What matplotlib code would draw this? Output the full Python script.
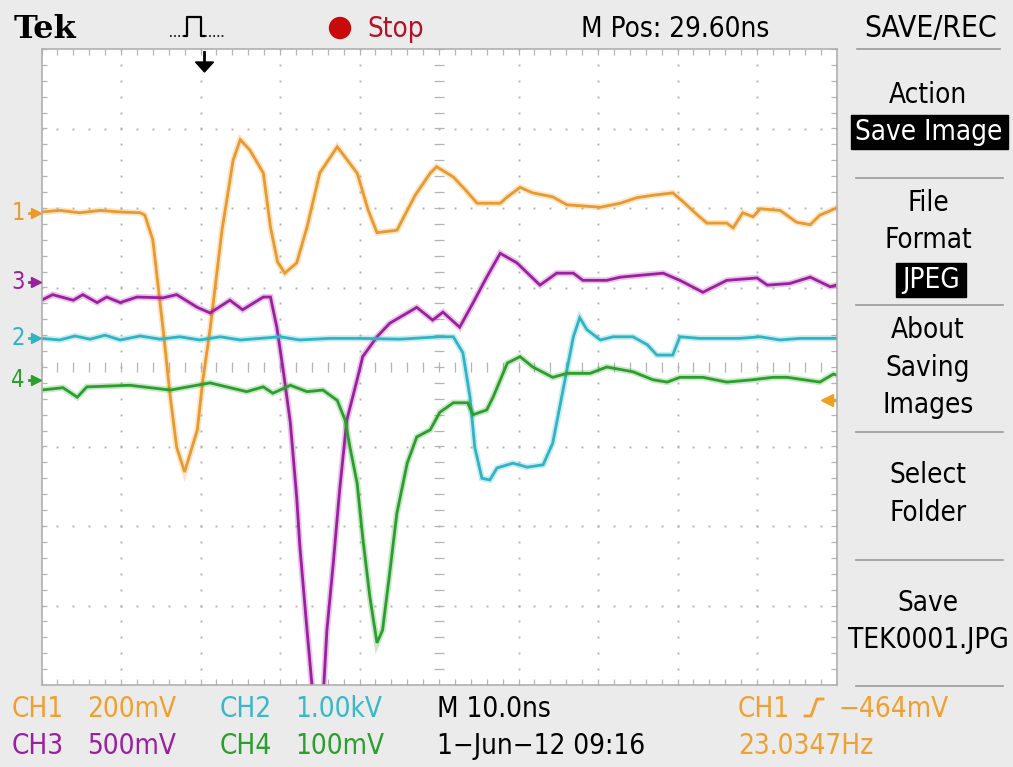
import matplotlib.pyplot as plt
import numpy as np
from matplotlib import transforms
from matplotlib.patches import Rectangle, Circle, Polygon

W, H = 1013, 767

# time in divisions (10 ns/div), amplitude in divisions
ch1_t = [0.0, 0.23, 0.48, 0.74, 0.99, 1.24, 1.30, 1.40, 1.53, 1.62, 1.70, 1.80, 1.96, 2.03,
         2.12, 2.21, 2.27, 2.35, 2.41, 2.50, 2.62, 2.79, 2.88, 2.97, 3.06, 3.21, 3.34, 3.50,
         3.72, 3.97, 4.11, 4.22, 4.47, 4.70, 4.89, 4.97, 5.18, 5.33, 5.48, 5.77, 5.86, 6.02,
         6.18, 6.43, 6.61, 7.03, 7.28, 7.49, 7.69, 7.94, 8.07, 8.22, 8.37, 8.62, 8.70, 8.82,
         8.95, 9.04, 9.29, 9.50, 9.67, 9.79, 10.0]
ch1_v = [1.95, 1.97, 1.94, 1.97, 1.95, 1.94, 1.91, 1.60, 0.47, -0.38, -1.01, -1.32, -0.79, -0.16,
         0.47, 1.22, 1.72, 2.22, 2.60, 2.86, 2.73, 2.44, 1.76, 1.32, 1.18, 1.31, 1.76, 2.44,
         2.77, 2.44, 1.97, 1.69, 1.72, 2.16, 2.44, 2.52, 2.39, 2.23, 2.06, 2.06, 2.14, 2.26,
         2.19, 2.14, 2.04, 2.01, 2.06, 2.13, 2.16, 2.19, 2.08, 1.94, 1.81, 1.81, 1.75, 1.94,
         1.89, 1.99, 1.97, 1.82, 1.79, 1.91, 2.00]

ch3_t = [0.0, 0.14, 0.40, 0.52, 0.70, 0.82, 0.99, 1.20, 1.53, 1.70, 1.96, 2.12, 2.37, 2.53,
         2.79, 2.88, 2.96, 3.04, 3.13, 3.21, 3.25, 3.34, 3.42, 3.54, 3.59, 3.67, 3.75, 3.84,
         3.97, 4.04, 4.22, 4.38, 4.55, 4.72, 4.92, 5.05, 5.26, 5.43, 5.60, 5.77, 5.98, 6.27,
         6.48, 6.69, 6.81, 7.11, 7.28, 7.82, 8.03, 8.32, 8.62, 9.00, 9.13, 9.41, 9.67, 9.92, 10.0]
ch3_v = [0.84, 0.91, 0.84, 0.91, 0.81, 0.88, 0.81, 0.88, 0.87, 0.91, 0.75, 0.68, 0.84, 0.72,
         0.88, 0.88, 0.50, -0.04, -0.70, -1.64, -2.26, -3.31, -4.2, -4.2, -3.31, -2.47, -1.55, -0.67,
         -0.16, 0.13, 0.38, 0.55, 0.65, 0.75, 0.59, 0.69, 0.50, 0.81, 1.13, 1.43, 1.31, 1.03,
         1.18, 1.18, 1.09, 1.09, 1.13, 1.18, 1.09, 0.94, 1.09, 1.12, 1.03, 1.05, 1.13, 1.01, 1.03]

ch2_t = [0.0, 0.23, 0.42, 0.61, 0.80, 0.99, 1.24, 1.49, 1.74, 1.99, 2.25, 2.50, 2.75, 3.00,
         3.25, 3.63, 4.01, 4.51, 5.01, 5.18, 5.30, 5.39, 5.45, 5.54, 5.64, 5.73, 5.93, 6.11,
         6.31, 6.43, 6.56, 6.69, 6.77, 6.86, 7.03, 7.19, 7.44, 7.62, 7.74, 7.94, 8.03, 8.28,
         8.78, 9.04, 9.29, 9.54, 10.0]
ch2_v = [0.36, 0.34, 0.39, 0.35, 0.40, 0.34, 0.39, 0.35, 0.38, 0.34, 0.38, 0.34, 0.36, 0.38,
         0.34, 0.36, 0.36, 0.35, 0.38, 0.38, 0.18, -0.38, -1.01, -1.40, -1.42, -1.27, -1.21, -1.26,
         -1.23, -0.96, -0.29, 0.38, 0.62, 0.47, 0.34, 0.38, 0.38, 0.28, 0.15, 0.15, 0.38, 0.36,
         0.36, 0.38, 0.34, 0.36, 0.36]

ch4_t = [0.0, 0.27, 0.45, 0.57, 1.11, 1.62, 2.12, 2.58, 2.79, 2.91, 3.13, 3.34, 3.54, 3.72,
         3.82, 3.88, 3.97, 4.04, 4.13, 4.22, 4.29, 4.38, 4.47, 4.60, 4.72, 4.89, 5.01, 5.18,
         5.36, 5.43, 5.60, 5.68, 5.86, 6.02, 6.18, 6.43, 6.61, 6.90, 7.11, 7.44, 7.69, 7.87,
         8.03, 8.32, 8.62, 8.95, 9.20, 9.38, 9.79, 9.96, 10.0]
ch4_v = [-0.29, -0.26, -0.38, -0.25, -0.23, -0.29, -0.20, -0.31, -0.25, -0.33, -0.23, -0.31, -0.29, -0.42,
         -0.67, -1.01, -1.46, -2.14, -2.89, -3.47, -3.31, -2.59, -1.84, -1.21, -0.88, -0.79, -0.57, -0.45,
         -0.45, -0.60, -0.54, -0.38, 0.05, 0.13, 0.0, -0.13, -0.08, -0.08, 0.0, -0.06, -0.16, -0.19,
         -0.13, -0.13, -0.19, -0.16, -0.13, -0.13, -0.19, -0.09, -0.10]

marker_levels = {'1': 1.94, '3': 1.07, '2': 0.36, '4': -0.16}
trig_level = -0.42
trig_pos = 2.05

ORANGE = '#e99a2c'
CYAN = '#2fb4c4'
MAGENTA = '#9c1f9f'
GREEN = '#2c9e2c'
BG = '#ebebeb'
GRID = '#b4b4b4'

TXT = dict(family=['DejaVu Sans'], fontstretch='condensed', fontsize=20)

fig = plt.figure(figsize=(W / 100, H / 100), dpi=100, facecolor=BG)

ax = fig.add_axes([41.5 / W, (H - 685) / H, 795 / W, 636 / H], zorder=2)
ax.set_xlim(0, 10)
ax.set_ylim(-4, 4)
ax.set_facecolor('white')
ax.set_xticks([])
ax.set_yticks([])
for s in ax.spines.values():
    s.set_color('#b0b0b0')
    s.set_linewidth(1.2)

# graticule
minor = np.arange(0, 10.01, 0.2)
minor_y = np.arange(-4, 4.01, 0.2)
for xm in range(1, 10):
    if xm == 5:
        continue
    ax.plot(np.full_like(minor_y, xm), minor_y, 's', ms=1.4, color=GRID, mew=0)
for ym in range(-3, 4):
    if ym == 0:
        continue
    ax.plot(minor, np.full_like(minor, ym), 's', ms=1.4, color=GRID, mew=0)
ax.vlines(minor, -0.06, 0.06, color=GRID, lw=0.9)
ax.hlines(minor_y, 4.94, 5.06, color=GRID, lw=0.9)
ax.vlines(minor, 3.93, 4.0, color=GRID, lw=0.9)
ax.vlines(minor, -4.0, -3.93, color=GRID, lw=0.9)
ax.hlines(minor_y, 0, 0.07, color=GRID, lw=0.9)
ax.hlines(minor_y, 9.93, 10, color=GRID, lw=0.9)

# traces
for t, v, c in [(ch1_t, ch1_v, ORANGE), (ch3_t, ch3_v, MAGENTA),
                (ch2_t, ch2_v, CYAN), (ch4_t, ch4_v, GREEN)]:
    ax.plot(t, v, color=c, lw=4.5, alpha=0.25, solid_joinstyle='miter')
    ax.plot(t, v, color=c, lw=2.0, solid_joinstyle='miter')

# trigger level arrow on right
ax.plot([9.88], [trig_level], marker='<', ms=9, color='#f0a020', clip_on=False)
ax.plot([9.9, 10.0], [trig_level, trig_level], color='#f0a020', lw=2.5)

# overlay in pixel coordinates
ov = fig.add_axes([0, 0, 1, 1], zorder=3)
ov.set_xlim(0, W)
ov.set_ylim(H, 0)
ov.axis('off')

# left channel markers
blend = transforms.blended_transform_factory(ov.transData, ax.transData)
mcol = {'1': ORANGE, '2': CYAN, '3': MAGENTA, '4': GREEN}
for k, lvl in marker_levels.items():
    ov.text(18, lvl, k, color=mcol[k], family=['DejaVu Sans'], fontstretch='condensed',
            fontsize=17, ha='center', va='center', transform=blend)
    ov.plot([29, 38], [lvl, lvl], color=mcol[k], lw=2, transform=blend)
    ov.plot([36], [lvl], marker='>', ms=7, color=mcol[k], transform=blend)

# trigger position arrow
tp = ax.transData.transform((trig_pos, 0))[0]
tpx = ov.transData.inverted().transform((tp, 0))[0]
ov.plot([tpx, tpx], [52, 66], color='black', lw=2)
ov.add_patch(Polygon([[tpx - 9, 62], [tpx + 9, 62], [tpx, 72]], color='black'))

# top bar
ov.text(14, 30, 'Tek', fontsize=23, family=['DejaVu Serif'],
        weight='bold', va='center', ha='left')
ov.plot([170, 184], [36, 36], color='black', lw=1.2, ls=(0, (1, 1.5)))
ov.plot([185, 187, 187, 201, 201, 204], [36, 36, 17, 17, 36, 36], color='black', lw=1.6)
ov.plot([205, 224], [36, 36], color='black', lw=1.2, ls=(0, (1, 1.5)))
ov.add_patch(Circle((340, 28), 10.5, color='#c80a0a'))
ov.text(367, 29, 'Stop', color='#b5122a', va='center', ha='left', **TXT)
ov.text(581, 29, 'M Pos: 29.60ns', va='center', ha='left', **TXT)
ov.text(931, 29, 'SAVE/REC', va='center', ha='center', family=['DejaVu Sans'],
        fontstretch='condensed', fontsize=21.5)
ov.plot([857, 1000], [49, 49], color='#9a9a9a', lw=1.2)

# right menu
menu = [('Action', 95), ('File', 203), ('Format', 240), ('About', 330),
        ('Saving', 368), ('Images', 405), ('Select', 475), ('Folder', 513),
        ('Save', 603), ('TEK0001.JPG', 640)]
for txt, y in menu:
    ov.text(928, y, txt, va='center', ha='center', **TXT)
ov.add_patch(Rectangle((851, 115), 157, 34, color='black'))
ov.text(929, 132, 'Save Image', color='white', va='center', ha='center', **TXT)
ov.add_patch(Rectangle((896, 263), 70, 34, color='black'))
ov.text(931, 280, 'JPEG', color='white', va='center', ha='center', **TXT)
for y in [178, 305, 432, 560, 686]:
    ov.plot([856, 1003], [y, y], color='#9a9a9a', lw=1.2)

# bottom readouts
row1, row2 = 709, 746
ov.text(12, row1, 'CH1', color='#f0a030', va='center', **TXT)
ov.text(87, row1, '200mV', color='#f0a030', va='center', **TXT)
ov.text(220, row1, 'CH2', color='#3ab8c8', va='center', **TXT)
ov.text(295, row1, '1.00kV', color='#3ab8c8', va='center', **TXT)
ov.text(437, row1, 'M 10.0ns', va='center', **TXT)
ov.text(738, row1, 'CH1', color='#f0a030', va='center', **TXT)
ov.plot([805, 811, 817, 823], [716, 716, 699, 699], color='#f0a030', lw=2)
ov.text(838, row1, '\u2212464mV', color='#f0a030', va='center', **TXT)
ov.text(12, row2, 'CH3', color=MAGENTA, va='center', **TXT)
ov.text(87, row2, '500mV', color=MAGENTA, va='center', **TXT)
ov.text(220, row2, 'CH4', color=GREEN, va='center', **TXT)
ov.text(295, row2, '100mV', color=GREEN, va='center', **TXT)
ov.text(437, row2, '1\u2212Jun\u221212 09:16', va='center', **TXT)
ov.text(738, row2, '23.0347Hz', color='#f0a030', va='center', **TXT)

fig.savefig('out.png', dpi=100, facecolor=BG)
